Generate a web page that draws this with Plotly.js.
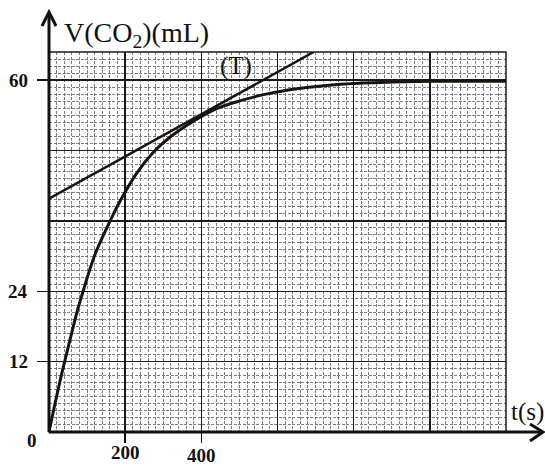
<!DOCTYPE html>
<html>
<head>
<meta charset="utf-8">
<script src="https://cdn.plot.ly/plotly-3.0.1.min.js"></script>
<style>html,body{margin:0;padding:0;background:#fff;}#chart{width:545px;height:466px;}</style>
</head>
<body>
<div id="chart"></div>
<script>
// Curve V(CO2) versus time
const tSeconds = [0, 15, 30, 43, 60, 75, 91, 121, 165, 191, 231, 274, 318, 362, 397, 450, 503, 555, 610, 661, 766, 871, 1000, 1100, 1200];
const volumeML = [0, 4.6, 9.0, 12.5, 17.0, 20.8, 24.3, 30.3, 36.6, 39.9, 44.2, 47.7, 50.3, 52.3, 53.7, 55.4, 56.5, 57.4, 58.1, 58.6, 59.3, 59.6, 59.8, 59.8, 59.8];
// Tangent (T) end points
const tangentT = [0, 695];
const tangentV = [39.8, 64.8];
// Tick labels
const xTickVals = [200, 400];
const yTickVals = [12, 24, 60];
const xRange = [0, 1200];
const yRange = [0, 64.8];

const serif = 'Liberation Serif, Times New Roman, serif';
const tickFont = {family: serif, size: 19, color: '#111', weight: 'bold'};

const traces = [
  {x: tSeconds, y: volumeML, type: 'scatter', mode: 'lines', line: {color: '#1a1410', width: 3, shape: 'spline', smoothing: 1}, hoverinfo: 'skip', xaxis: 'x', yaxis: 'y'},
  {x: tangentT, y: tangentV, type: 'scatter', mode: 'lines', line: {color: '#1a1410', width: 2.5}, hoverinfo: 'skip', xaxis: 'x2', yaxis: 'y2'}
];

// plot area pixel geometry helpers for decorations (axes arrows, label placement)
const L = 49, R = 506, T = 52, B = 432;
const px = v => (v - L) / (R - L);
const py = v => (B - v) / (B - T);

const annotations = [
  {text: 'V(CO<sub>2</sub>)(mL)', xref: 'paper', yref: 'paper', x: px(62), y: py(34), xanchor: 'left', yanchor: 'middle', showarrow: false,
   font: {family: serif, size: 28, color: '#111'}},
  {text: '(T)', xref: 'paper', yref: 'paper', x: px(236), y: py(66), xanchor: 'center', yanchor: 'middle', showarrow: false,
   font: {family: serif, size: 25, color: '#111'}},
  {text: 't(s)', xref: 'paper', yref: 'paper', x: px(527), y: py(412), xanchor: 'center', yanchor: 'middle', showarrow: false,
   font: {family: serif, size: 25, color: '#111'}},
  {text: '0', xref: 'paper', yref: 'paper', x: px(32), y: py(440), xanchor: 'center', yanchor: 'middle', showarrow: false,
   font: tickFont}
];
xTickVals.forEach((v, i) => annotations.push({
  text: String(v), xref: 'x', yref: 'paper', x: v, y: py(452 + 3 * i), xanchor: 'center', yanchor: 'middle',
  showarrow: false, font: tickFont
}));
yTickVals.forEach(v => annotations.push({
  text: String(v), xref: 'paper', yref: 'y', x: px(30), y: v, xanchor: 'right', yanchor: 'middle',
  showarrow: false, font: tickFont
}));

const minorGrid = {showgrid: true, gridcolor: '#5e5e5e', gridwidth: 0.8, griddash: '3px,1.5px'};

const layout = {
  width: 545, height: 466,
  margin: {l: L, r: 545 - R, t: T, b: 466 - B, pad: 0},
  paper_bgcolor: '#fff', plot_bgcolor: '#fff',
  showlegend: false,
  xaxis: {
    range: xRange, dtick: 200, tick0: 0, showticklabels: false, ticks: '',
    showgrid: true, gridcolor: '#1a1a1a', gridwidth: 1.5, zeroline: false, showline: false,
    minor: Object.assign({dtick: 20, tick0: 0}, minorGrid)
  },
  yaxis: {
    range: yRange, dtick: 12, tick0: 0, showticklabels: false, ticks: '',
    showgrid: true, gridcolor: '#1a1a1a', gridwidth: 1.5, zeroline: false, showline: false,
    minor: Object.assign({dtick: 1.2, tick0: 0}, minorGrid)
  },
  xaxis2: {
    overlaying: 'x', anchor: 'y', side: 'bottom', range: xRange,
    tickmode: 'array', tickvals: xTickVals, showticklabels: false,
    ticks: 'outside', ticklen: 10, tickwidth: 1.5, tickcolor: '#111',
    showgrid: false, zeroline: false, showline: false
  },
  yaxis2: {
    overlaying: 'y', anchor: 'x', side: 'left', range: yRange,
    tickmode: 'array', tickvals: yTickVals, showticklabels: false,
    ticks: 'outside', ticklen: 11, tickwidth: 1.5, tickcolor: '#111',
    showgrid: false, zeroline: false, showline: false
  },
  shapes: [
    {type: 'rect', xref: 'paper', yref: 'paper', x0: 0, x1: 1, y0: 0, y1: 1, line: {color: '#1a1a1a', width: 1.5}},
    {type: 'line', xref: 'paper', yref: 'paper', x0: 0, x1: px(543), y0: 0, y1: 0, line: {color: '#111', width: 3}},
    {type: 'line', xref: 'paper', yref: 'paper', x0: 0, x1: 0, y0: 0, y1: py(13), line: {color: '#111', width: 3}},
    {type: 'path', xref: 'paper', yref: 'paper',
     path: `M ${px(530)},${py(424)} L ${px(543)},${py(432)} L ${px(530)},${py(441)}`,
     line: {color: '#111', width: 3}},
    {type: 'path', xref: 'paper', yref: 'paper',
     path: `M ${px(42)},${py(26)} L ${px(49)},${py(12)} L ${px(56)},${py(26)}`,
     line: {color: '#111', width: 3}}
  ],
  annotations: annotations
};

Plotly.newPlot('chart', traces, layout, {staticPlot: true, displayModeBar: false});
</script>
</body>
</html>
